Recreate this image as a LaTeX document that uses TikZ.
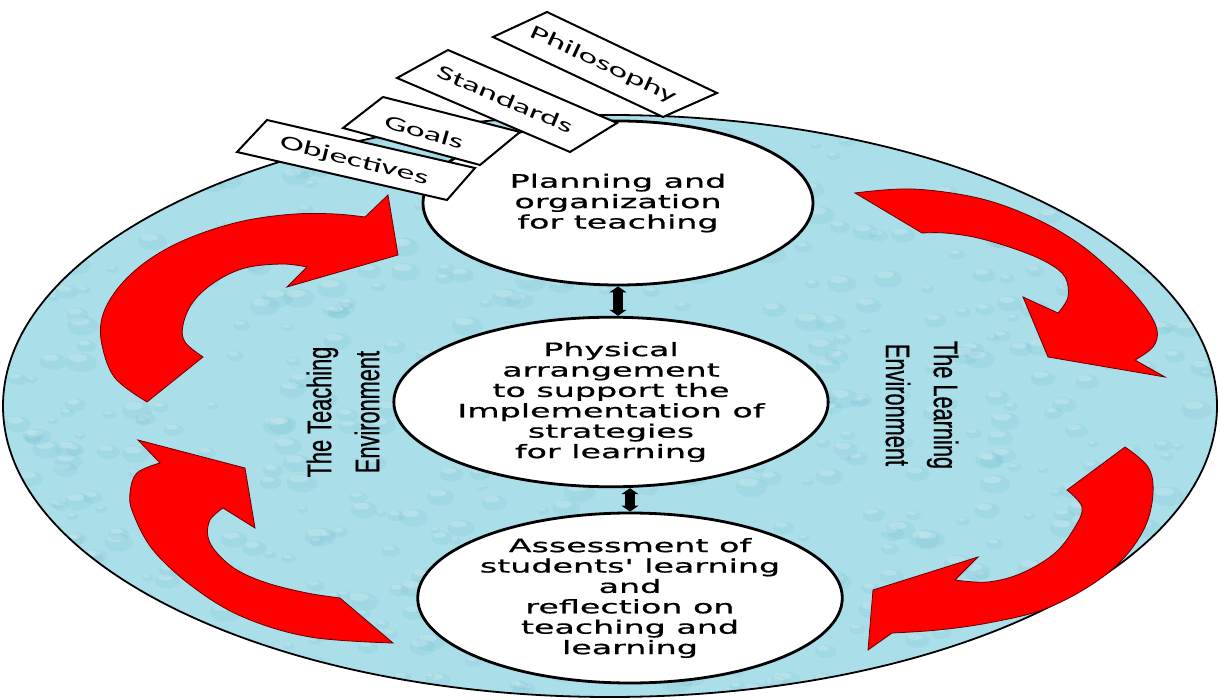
\documentclass[tikz,border=0pt]{standalone}
\usepackage{fontspec}
\usetikzlibrary{shapes.geometric,arrows.meta}
\newfontfamily\ellfont[FakeStretch=1.8,FakeBold=0.8]{DejaVu Sans}
\newfontfamily\tabfont[FakeStretch=1.8]{Carlito}
\newfontfamily\envfont[FakeStretch=0.64,FakeBold=0.6]{Liberation Sans}
\definecolor{pool}{RGB}{170,222,233}
\definecolor{pooldark}{RGB}{120,190,210}
\definecolor{arrowred}{RGB}{255,0,0}
\begin{document}
\begin{tikzpicture}[x=1pt,y=-1pt,
  stage/.style={ellipse, draw=black, line width=2.8pt, fill=white, inner sep=0pt,
    align=center, font=\ellfont\fontsize{18.5}{20.4}\selectfont},
  tabbox/.style={draw=black, line width=2pt, fill=white, line join=miter},
  tablabel/.style={font=\tabfont\fontsize{20}{20}\selectfont, inner sep=0pt},
  envtext/.style={font=\envfont\fontsize{34}{48}\selectfont, align=center, inner sep=0pt},
  redarrow/.style={fill=arrowred, draw=black!60!red, line width=0.8pt, line join=miter},
  link/.style={line width=10pt, draw=black,
    {Triangle[width=17pt,length=6pt]}-{Triangle[width=17pt,length=6pt]}}]
\useasboundingbox (0,0) rectangle (1218,700);
% pool
\node[ellipse, fill=pool, draw=none, minimum width=1214pt, minimum height=582pt, inner sep=0pt] (pool) at (610,406) {};
\begin{scope}
  \clip (610,406) ellipse [x radius=607, y radius=291];
  \pgfmathsetseed{12}
  \foreach \i in {1,...,700}{
    \pgfmathsetmacro{\dx}{10+rnd*1200}
    \pgfmathsetmacro{\dy}{112+rnd*590}
    \pgfmathsetmacro{\rr}{5+rnd*11}
    \fill[pooldark, opacity=0.18] (\dx,\dy) ellipse [x radius=\rr, y radius=0.6*\rr];
    \fill[white, opacity=0.22] (\dx-0.2*\rr,\dy-0.3*\rr) ellipse [x radius=0.6*\rr, y radius=0.25*\rr];
  }
\end{scope}
\draw[line width=1.8pt] (pool.center) ellipse [x radius=607, y radius=291];
% red arrows
\filldraw[redarrow] (147,402) -- plot[smooth, tension=0.6] coordinates {(147,402) (115,378) (102,345) (102,318) (115,292) (138,268) (168,248) (205,232) (248,220) (295,214) (335,214) (365,217)} -- (388,195) -- (398,255) -- (287,287) -- plot[smooth, tension=0.6] coordinates {(307,267) (282,264) (245,268) (215,282) (193,302) (183,325) (185,342) (203,357)} -- cycle;
\filldraw[redarrow] (393,643) -- plot[smooth, tension=0.6] coordinates {(393,643) (310,637) (243,617) (193,587) (153,550) (133,513) (130,493) (137,473) (160,463)} -- (138,440) -- (245,468) -- (255,528) -- plot[smooth, tension=0.6] coordinates {(223,508) (210,520) (208,537) (217,553) (237,570) (267,583) (307,593) (340,598)} -- cycle;
\filldraw[redarrow] (855,193) -- plot[smooth, tension=0.6] coordinates {(855,193) (912,189) (978,198) (1032,217) (1078,243) (1118,277) (1145,307) (1157,330) (1153,347) (1135,360)} -- (1165,377) -- (1048,357) -- (1023,297) -- plot[smooth, tension=0.6] coordinates {(1058,313) (1068,297) (1065,277) (1048,263) (1018,250) (978,238) (945,233) (922,233)} -- cycle;
\filldraw[redarrow] (1125,447) -- plot[smooth, tension=0.6] coordinates {(1125,447) (1148,467) (1153,493) (1145,527) (1122,560) (1088,587) (1042,610) (988,623) (938,630) (892,633)} -- (868,650) -- (873,590) -- (978,557) -- plot[smooth, tension=0.6] coordinates {(955,580) (988,582) (1022,573) (1055,553) (1075,527) (1082,507) (1067,490)} -- cycle;
% side labels
\node[envtext, rotate=90] (teach) at (343,412) {The Teaching\\Environment};
\node[envtext, rotate=-90] (learn) at (922,405) {The Learning\\Environment};
% stages
\node[stage, minimum width=390pt, minimum height=164pt] (plan) at (618,203) {Planning and\\organization\\for teaching};
\node[stage, minimum width=372pt, minimum height=160pt] (phys) at (611,402) {Physical\\arrangement\\to support the\\Implementation of\\strategies\\for learning};
\node[stage, minimum width=376pt, minimum height=170pt] (assess) at (630,598) {Assessment of\\students' learning\\and\\reflection on\\teaching and\\learning};
\draw[link] (plan.south) -- (plan.south |- phys.north);
\draw[link] (assess.north |- phys.south) -- (assess.north);
% tabs
\filldraw[tabbox] (493,37) -- (547,12) -- (717,93) -- (663,117) -- cycle;
\node[tablabel, rotate=-25] (philo) at (603,65) {Philosophy};
\filldraw[tabbox] (397,78) -- (448,50) -- (617,123) -- (570,152) -- cycle;
\node[tablabel, rotate=-23] (stand) at (505,99) {Standards};
\filldraw[tabbox] (343,128) -- (383,97) -- (520,132) -- (480,165) -- cycle;
\node[tablabel, rotate=-16] (goals) at (424,132) {Goals};
\filldraw[tabbox] (237,152) -- (267,120) -- (475,168) -- (447,200) -- cycle;
\node[tablabel, rotate=-14] (obj) at (354,161) {Objectives};
\end{tikzpicture}
\end{document}
